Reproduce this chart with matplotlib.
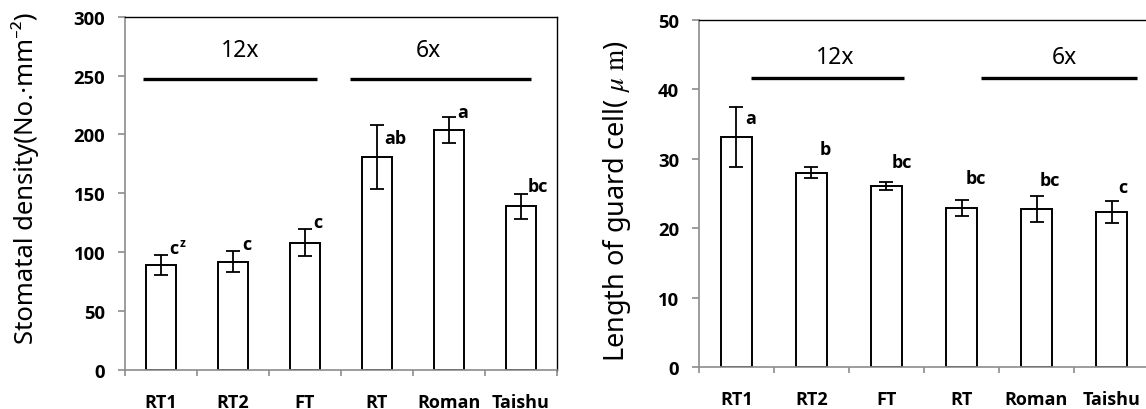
import matplotlib
matplotlib.use("Agg")
import matplotlib.pyplot as plt
import numpy as np

plt.rcParams['font.family'] = ['Noto Sans', 'DejaVu Sans']
plt.rcParams['mathtext.fontset'] = 'stix'

categories = ["RT1", "RT2", "FT", "RT", "Roman", "Taishu"]

density_mean = [89, 92, 108, 181, 204, 139]
density_err = [8.7, 8.8, 11.4, 27, 11, 10.4]
density_letters = ["c", "c", "c", "ab", "a", "bc"]

guard_mean = [33.1, 28.0, 26.1, 22.9, 22.7, 22.3]
guard_err = [4.3, 0.75, 0.55, 1.2, 1.85, 1.6]
guard_letters = ["a", "b", "bc", "bc", "bc", "c"]

group_names = ["12x", "6x"]

W, H = 1146, 410
fig = plt.figure(figsize=(W / 100, H / 100), dpi=100)

def ax_rect(x0, x1, y0, y1):
    return [x0 / W, 1 - y1 / H, (x1 - x0) / W, (y1 - y0) / H]

ax1 = fig.add_axes(ax_rect(125, 557, 17.7, 371))
ax2 = fig.add_axes(ax_rect(699, 1149, 20.7, 368))

GRAY = '#8c8c8c'
BOLD = dict(family='Open Sans', weight='bold')

def style(ax, ymax, step, right_spine=True):
    n = len(categories)
    x = np.arange(n)
    ax.set_xlim(-0.5, n - 0.5)
    ax.set_ylim(0, ymax)
    ticks = np.arange(0, ymax + 1e-9, step)
    ax.set_yticks(ticks)
    ax.set_yticklabels([f"{v:g}" for v in ticks], fontsize=13.3, **BOLD)
    ax.set_xticks(x)
    ax.set_xticklabels(categories, fontsize=13, **BOLD)
    ax.set_xticks(np.arange(-0.5, n, 1.0), minor=True)
    ax.tick_params(axis='x', which='major', length=0, pad=16.5)
    ax.tick_params(axis='x', which='minor', length=4.3, width=1.2, color=GRAY, direction='out')
    ax.tick_params(axis='y', length=4.8, width=1.2, color=GRAY, direction='out', pad=9.5)
    ax.spines['left'].set_color(GRAY)
    ax.spines['bottom'].set_color(GRAY)
    ax.spines['left'].set_linewidth(1.2)
    ax.spines['bottom'].set_linewidth(1.2)
    ax.spines['top'].set_color('black')
    ax.spines['top'].set_linewidth(1.0)
    ax.spines['right'].set_visible(right_spine)
    ax.spines['right'].set_color('black')
    ax.spines['right'].set_linewidth(1.0)

# ---- left panel ----
x = np.arange(len(categories))
ax1.bar(x, density_mean, width=0.41, color='white', edgecolor='black', linewidth=1.4, zorder=2)
ax1.errorbar(x, density_mean, yerr=density_err, fmt='none', ecolor='black',
             elinewidth=1.3, capsize=5, capthick=1.3, zorder=3)
style(ax1, 300, 50)
ax1.set_ylabel("Stomatal density(No.·mm⁻²)", fontsize=18.5)
ax1.yaxis.set_label_coords(-0.20, 0.546)

d_dx = [0.115, 0.13, 0.12, 0.10, 0.12, 0.09]
d_dy = [6, 6, 6, -11, 4, 7]
for i, (m, e, lab) in enumerate(zip(density_mean, density_err, density_letters)):
    ax1.text(i + d_dx[i], m + e + d_dy[i], lab, fontsize=13, ha='left', va='center',
             zorder=4, **BOLD)
ax1.annotate("z", xy=(0 + d_dx[0], density_mean[0] + density_err[0] + d_dy[0]),
             xytext=(7.5, 4), textcoords='offset points', fontsize=8.5, ha='left',
             va='center', **BOLD)

ax1.plot([-0.25, 2.17], [247, 247], color='black', lw=2.4, solid_capstyle='butt')
ax1.plot([2.63, 5.14], [247, 247], color='black', lw=2.4, solid_capstyle='butt')
ax1.text(1.1, 272, group_names[0], fontsize=16.5, ha='center', va='center')
ax1.text(3.72, 272, group_names[1], fontsize=16.5, ha='center', va='center')

# ---- right panel ----
ax2.bar(x, guard_mean, width=0.41, color='white', edgecolor='black', linewidth=1.4, zorder=2)
ax2.errorbar(x, guard_mean, yerr=guard_err, fmt='none', ecolor='black',
             elinewidth=1.3, capsize=5, capthick=1.3, zorder=3)
style(ax2, 50, 10, right_spine=False)
ax2.set_ylabel(r"Length of guard cell( $\mu$ $\mathrm{m}$)", fontsize=19.5)
ax2.yaxis.set_label_coords(-0.147, 0.481)

g_dx = [0.12, 0.11, 0.07, 0.06, 0.04, 0.09]
g_dy = [-1.6, 2.6, 2.8, 3.1, 2.3, 2.0]
for i, (m, e, lab) in enumerate(zip(guard_mean, guard_err, guard_letters)):
    ax2.text(i + g_dx[i], m + e + g_dy[i], lab, fontsize=13, ha='left', va='center',
             zorder=4, **BOLD)

ax2.plot([0.19, 2.23], [41.6, 41.6], color='black', lw=2.4, solid_capstyle='butt')
ax2.plot([3.26, 5.34], [41.6, 41.6], color='black', lw=2.4, solid_capstyle='butt')
ax2.text(1.32, 44.7, group_names[0], fontsize=16.5, ha='center', va='center')
ax2.text(4.37, 44.7, group_names[1], fontsize=16.5, ha='center', va='center')

fig.savefig("out.png", dpi=100)
